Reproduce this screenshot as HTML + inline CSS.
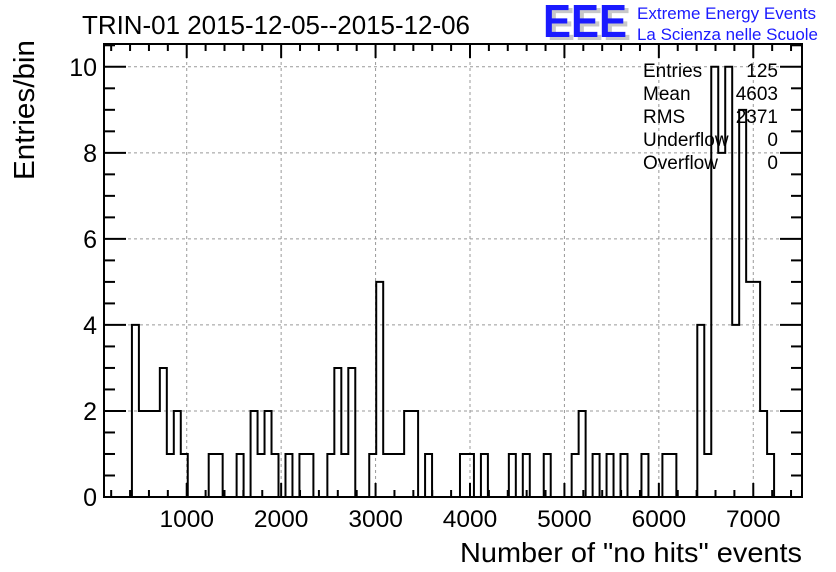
<!DOCTYPE html>
<html><head><meta charset="utf-8"><style>
html,body{margin:0;padding:0;background:#fff;}
svg{display:block;font-family:"Liberation Sans",sans-serif;}
</style></head><body>
<svg id="chart" width="836" height="572" viewBox="0 0 836 572" xmlns="http://www.w3.org/2000/svg">
<rect x="0" y="0" width="836" height="572" fill="#fff"/>
<g id="grid"></g>
<g id="hist"></g>
<g id="axes"></g>
<text x="82" y="34" font-size="26" textLength="388" lengthAdjust="spacingAndGlyphs">TRIN-01 2015-12-05--2015-12-06</text>
<g>
<text x="547" y="40" font-size="46" font-weight="bold" fill="#c8c8c8" textLength="84" lengthAdjust="spacingAndGlyphs">EEE</text>
<text x="543" y="37" font-size="46" font-weight="bold" fill="#1a1aff" textLength="84" lengthAdjust="spacingAndGlyphs">EEE</text>
<text x="637" y="19" font-size="17" fill="#1a1aff" textLength="179" lengthAdjust="spacingAndGlyphs">Extreme Energy Events</text>
<text x="637" y="40" font-size="17" fill="#1a1aff" textLength="181" lengthAdjust="spacingAndGlyphs">La Scienza nelle Scuole</text>
</g>
<g id="stats" font-size="19"></g>
<text x="802" y="562" font-size="28" text-anchor="end" textLength="342" lengthAdjust="spacingAndGlyphs">Number of "no hits" events</text>
<text transform="translate(34,40) rotate(-90)" font-size="29" text-anchor="end" textLength="140" lengthAdjust="spacingAndGlyphs">Entries/bin</text>
</svg>
<script>
const xMin = 124, xMax = 7516, nBins = 100;
const yMax = 10.53;
const binIndices = [4,5,6,7,8,9,10,11,15,16,19,21,22,23,24,26,28,29,32,33,34,35,38,39,40,41,42,43,44,46,51,52,54,58,60,63,67,68,70,72,74,77,80,81,85,86,87,88,89,90,91,92,93,94,95];
const binCounts  = [4,2,2,2,3,1,2,1,1,1,1,2,1,2,1,1,1,1,1,3,1,3,1,5,1,1,1,2,2,1,1,1,1,1,1,1,1,2,1,1,1,1,1,1,4,1,10,8,10,4,9,5,5,2,1];
const xTicks = [1000,2000,3000,4000,5000,6000,7000];
const yTicks = [0,2,4,6,8,10];
const statLabels = ["Entries","Mean","RMS","Underflow","Overflow"];
const statValues = ["125","4603","2371","0","0"];

const L=104,R=802,T=44,B=497;
const NS="http://www.w3.org/2000/svg";
function X(v){return L+(v-xMin)/(xMax-xMin)*(R-L);}
function Y(v){return B-v/yMax*(B-T);}
function mk(tag,attrs,parent){const e=document.createElementNS(NS,tag);for(const k in attrs)e.setAttribute(k,attrs[k]);parent.appendChild(e);return e;}
const grid=document.getElementById('grid'),hist=document.getElementById('hist'),axes=document.getElementById('axes'),stats=document.getElementById('stats');

xTicks.forEach(t=>{const l=mk('line',{x1:X(t),x2:X(t),y1:T,y2:B,stroke:'#999','stroke-dasharray':'3,3','stroke-width':1},grid);

});
yTicks.slice(1).forEach(t=>{const l=mk('line',{x1:L,x2:R,y1:Y(t),y2:Y(t),stroke:'#999','stroke-dasharray':'3,3','stroke-width':1},grid);

});

const counts=new Array(nBins).fill(0);
binIndices.forEach((b,i)=>{counts[b]=binCounts[i];});
const bw=(xMax-xMin)/nBins;
let d='M'+X(xMin)+','+Y(0);
for(let i=0;i<nBins;i++){const x0=X(xMin+i*bw),x1=X(xMin+(i+1)*bw);d+=' L'+x0+','+Y(counts[i])+' L'+x1+','+Y(counts[i]);}
d+=' L'+X(xMax)+','+Y(0);
const p=mk('path',{d:d,fill:'none',stroke:'#000','stroke-width':2},hist);



const fr=mk('rect',{x:L,y:T,width:R-L,height:B-T,fill:'none',stroke:'#000','stroke-width':2},axes);


for(let v=0;v<=xMax;v+=200){if(v<xMin)continue;const maj=v%1000===0;const len=maj?14:7;
const a=mk('line',{x1:X(v),x2:X(v),y1:B,y2:B-len,stroke:'#000','stroke-width':2},axes);


const b=mk('line',{x1:X(v),x2:X(v),y1:T,y2:T+len,stroke:'#000','stroke-width':2},axes);

}
for(let v=0;v<=yMax;v+=0.5){const maj=v%2===0;const len=maj?22:11;
const a=mk('line',{x1:L,x2:L+len,y1:Y(v),y2:Y(v),stroke:'#000','stroke-width':2},axes);


const b=mk('line',{x1:R,x2:R-len,y1:Y(v),y2:Y(v),stroke:'#000','stroke-width':2},axes);

}
xTicks.forEach(t=>{const e=mk('text',{x:X(t),y:527,'font-size':24.5,'text-anchor':'middle'},axes);e.textContent=t;

});
yTicks.forEach(t=>{const e=mk('text',{x:97,y:Y(t)+9,'font-size':25,'text-anchor':'end'},axes);e.textContent=t;

});
statLabels.forEach((s,i)=>{const y=77+i*23;
const a=mk('text',{x:643,y:y},stats);a.textContent=s;


const b=mk('text',{x:778,y:y,'text-anchor':'end'},stats);b.textContent=statValues[i];

});
</script>
</body></html>
